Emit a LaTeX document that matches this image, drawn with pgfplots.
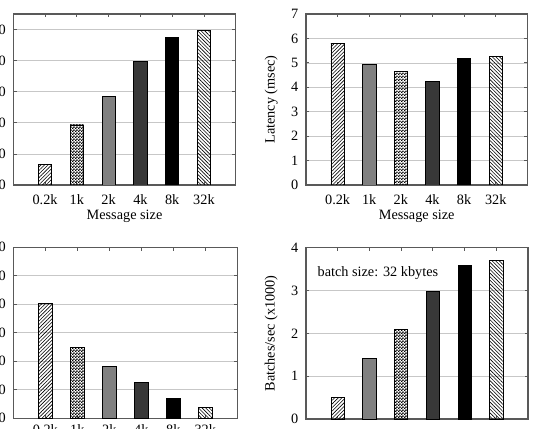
\documentclass[border=0pt]{standalone}
\usepackage{fontspec}
\setmainfont{Liberation Serif}
\usepackage{pgfplots}
\pgfplotsset{compat=1.18}
\usetikzlibrary{patterns,patterns.meta}
\newcommand\fs{\fontsize{10.7pt}{12pt}\selectfont}
\pgfdeclarepatternformonly{checker}{\pgfpointorigin}{\pgfpoint{2pt}{2pt}}{\pgfpoint{2pt}{2pt}}{%
  \pgfpathrectangle{\pgfpointorigin}{\pgfpoint{1.1pt}{1.1pt}}%
  \pgfpathrectangle{\pgfpoint{1pt}{1pt}}{\pgfpoint{1.1pt}{1.1pt}}%
  \pgfusepath{fill}}
\pgfplotsset{
  base/.style={
    scale only axis, height=128.25pt,
    ybar, bar width=10pt, bar shift=0pt,
    xmin=-1, xmax=6, ymin=0, enlargelimits=false,
    xtick={0,...,5},
    xticklabels={0.2k,1k,2k,4k,8k,32k},
    tick align=inside, major tick length=2.5pt,
    xtick pos=both, ytick pos=both,
    axis line style={black!65, line width=0.8pt},
    every tick/.style={black!65, line width=0.6pt},
    ymajorgrids, grid style={black!22, line width=0.5pt},
    tick label style={font=\fs},
    label style={font=\fs},
    /pgf/number format/assume math mode=true,
    xticklabel style={yshift=-4pt},
    yticklabel style={xshift=-2.2pt},
    xlabel style={at={(axis description cs:0.5,-0.185)}, anchor=center},
    ylabel style={at={(axis description cs:-0.157,0.5)}, anchor=center},
  },
  sl/.style={draw=black, line width=0.5pt, pattern={Lines[angle=45,distance=1.9pt,line width=0.45pt]}},
  bs/.style={draw=black, line width=0.5pt, pattern={Lines[angle=-45,distance=1.9pt,line width=0.45pt]}},
  ck/.style={draw=black, line width=0.5pt, pattern=checker},
  gr/.style={draw=black, line width=0.5pt, fill=black!50},
  dk/.style={draw=black, line width=0.5pt, fill=black!78},
  bk/.style={draw=black, line width=0.5pt, fill=black},
}
\begin{document}
\begin{tikzpicture}
\path[use as bounding box] (0pt,0pt) rectangle (400.5pt,321pt);
\clip (0pt,0pt) rectangle (400.5pt,321pt);
% top left
\begin{axis}[base, width=166.8pt, at={(9.98pt,182.25pt)}, anchor=south west,
  ymax=55, ytick={0,10,...,50}, xlabel={Message size}]
\addplot[sl] coordinates {(0,6.65)};
\addplot[ck] coordinates {(1,19.3)};
\addplot[gr] coordinates {(2,28.4)};
\addplot[dk] coordinates {(3,39.8)};
\addplot[bk] coordinates {(4,47.5)};
\addplot[bs] coordinates {(5,49.8)};
\end{axis}
% top right
\begin{axis}[base, width=166pt, at={(229.5pt,182.25pt)}, anchor=south west,
  ymax=7, ytick={0,...,7}, xlabel={Message size}, ylabel={Latency (msec)}]
\addplot[sl] coordinates {(0,5.80)};
\addplot[gr] coordinates {(1,4.95)};
\addplot[ck] coordinates {(2,4.64)};
\addplot[dk] coordinates {(3,4.24)};
\addplot[bk] coordinates {(4,5.17)};
\addplot[bs] coordinates {(5,5.25)};
\end{axis}
% bottom left
\begin{axis}[base, width=168pt, at={(9.98pt,7.28pt)}, anchor=south west,
  ymax=60, ytick={0,10,...,60}, xticklabel style={yshift=3pt}, xlabel={Message size}]
\addplot[sl] coordinates {(0,40.4)};
\addplot[ck] coordinates {(1,24.8)};
\addplot[gr] coordinates {(2,18.1)};
\addplot[dk] coordinates {(3,12.6)};
\addplot[bk] coordinates {(4,7.0)};
\addplot[bs] coordinates {(5,3.9)};
\end{axis}
% bottom right
\begin{axis}[base, width=166.5pt, height=128.5pt, at={(229.5pt,6.75pt)}, anchor=south west,
  ymax=4, ytick={0,...,4}, xticklabels={}, ylabel={Batches/sec (x1000)}]
\addplot[sl] coordinates {(0,0.50)};
\addplot[gr] coordinates {(1,1.42)};
\addplot[ck] coordinates {(2,2.10)};
\addplot[dk] coordinates {(3,2.97)};
\addplot[bk] coordinates {(4,3.59)};
\addplot[bs] coordinates {(5,3.70)};
\node[anchor=west, inner sep=0pt, font=\fs] at (axis cs:-0.64,3.40) {batch size: 32 kbytes};
\end{axis}
\end{tikzpicture}
\end{document}
